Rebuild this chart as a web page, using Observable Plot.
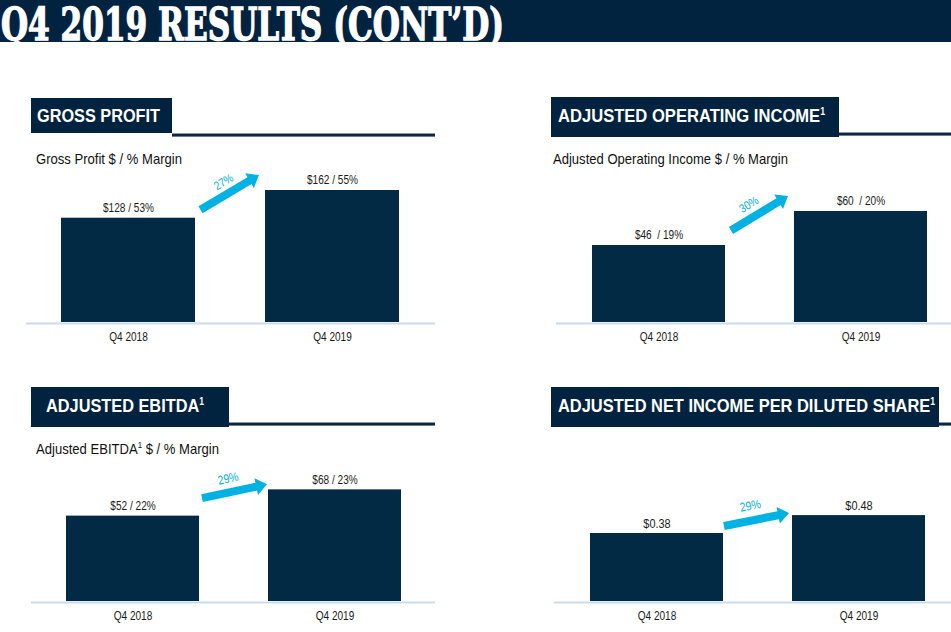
<!DOCTYPE html>
<html><head><meta charset="utf-8">
<script src="https://cdn.jsdelivr.net/npm/d3@7"></script>
<script src="https://cdn.jsdelivr.net/npm/@observablehq/plot@0.6"></script>
<style>
html,body{margin:0;padding:0;background:#fff;}
#page{position:relative;width:951px;height:632px;overflow:hidden;font-family:"Liberation Sans",Arial,sans-serif;}
.hbox{position:absolute;background:#012340;}
.htext{position:absolute;color:#fff;font-weight:bold;font-size:19px;line-height:19px;white-space:nowrap;transform-origin:0 0;}
.htext sup{font-size:10px;line-height:10px;vertical-align:top;position:relative;top:1px;}
.uline{position:absolute;height:4px;background:linear-gradient(#8d98a4 0,#8d98a4 1px,#0c2643 1px,#0c2643 3px,#6f7d8b 3px);}
.sub{position:absolute;color:#111;font-size:15px;line-height:15px;white-space:nowrap;transform-origin:0 0;}
.sub sup{font-size:9px;line-height:9px;vertical-align:top;}
.plot{position:absolute;}
</style>
</head><body><div id="page"></div>
<script>
// ---------- data ----------
const title = "Q4 2019 RESULTS (CONT\u2019D)";
const periods = ["Q4 2018", "Q4 2019"];

const grossProfit = [128, 162];
const grossMargin = [53, 55];
const grossGrowth = "27%";

const opIncome = [46, 60];
const opMargin = [19, 20];
const opGrowth = "30%";

const ebitda = [52, 68];
const ebitdaMargin = [22, 23];
const ebitdaGrowth = "29%";

const epsAdj = [0.38, 0.48];
const epsGrowth = "29%";

// ---------- style ----------
const NAVY = "#012340", BAR = "#022a45", CYAN = "#00b1e3", BASE = "#c9dbf2", INK = "#1a1a1a";
const TEXT_SX = 0.84;
const page = document.getElementById("page");

// banner
page.insertAdjacentHTML("beforeend",
  `<div style="position:absolute;left:0;top:0;width:951px;height:42px;background:${NAVY}"></div>
   <svg width="951" height="48" style="position:absolute;left:0;top:0">
     <text x="1" y="39.5" fill="#fff" stroke="#fff" stroke-width="1.4" font-family="DejaVu Serif" font-weight="bold" font-size="44"
       textLength="503" lengthAdjust="spacingAndGlyphs">${title}</text>
   </svg>`);

function fit(el, w) {
  const r = el.getBoundingClientRect().width;
  el.style.transform = `scaleX(${w / r})`;
}
function addDiv(cls, css, html) {
  const d = document.createElement("div");
  d.className = cls;
  Object.assign(d.style, css);
  if (html != null) d.innerHTML = html;
  page.appendChild(d);
  return d;
}

const headers = [
  {box:[31,98,141,35], line:[172,133,263], text:"GROSS PROFIT", tx:37, ty:106, tw:123,
   sub:"Gross Profit $ / % Margin", sx:36, sy:151, sw:146},
  {box:[551,97,288,40], line:[839,132,112], text:"ADJUSTED OPERATING INCOME<sup>1</sup>", tx:558, ty:106, tw:267,
   sub:"Adjusted Operating Income $ / % Margin", sx:553, sy:151, sw:235},
  {box:[31,387,198,40], line:[229,422,206], text:"ADJUSTED EBITDA<sup>1</sup>", tx:46, ty:396, tw:158,
   sub:"Adjusted EBITDA<sup>1</sup> $ / % Margin", sx:36, sy:441, sw:183},
  {box:[551,387,388,40], line:[939,422,12], text:"ADJUSTED NET INCOME PER DILUTED SHARE<sup>1</sup>", tx:558, ty:396, tw:377}
];
for (const h of headers) {
  addDiv("uline", {left:h.line[0]+"px", top:h.line[1]+"px", width:h.line[2]+"px"});
  addDiv("hbox", {left:h.box[0]+"px", top:h.box[1]+"px", width:h.box[2]+"px", height:h.box[3]+"px"});
  const t = addDiv("htext", {left:h.tx+"px", top:h.ty+"px"}, h.text);
  fit(t, h.tw);
  if (h.sub) {
    const s = addDiv("sub", {left:h.sx+"px", top:h.sy+"px"}, h.sub);
    fit(s, h.sw);
  }
}

// ---------- charts ----------
function chart(cfg, values, labels, growth) {
  const data = periods.map((p, i) => ({period: p, value: values[i], label: labels[i]}));
  const arrowMark = (...args) => {
    const scales = args.find(a => a && typeof a.x === "function" && typeof a.y === "function");
    const sx = scales.x, sy = scales.y;
    const bw = typeof sx.bandwidth === "function" ? sx.bandwidth() : scales.scales.x.bandwidth;
    const a = cfg.arrow;
    const x0 = sx(periods[0]) + bw + a.tail[0], y0 = sy(values[0]) + a.tail[1];
    const x1 = sx(periods[1]) + a.tip[0], y1 = sy(values[1]) + a.tip[1];
    const dx = x1 - x0, dy = y1 - y0, L = Math.hypot(dx, dy);
    const ux = dx / L, uy = dy / L, nx = -uy, ny = ux;
    const sw = 4, hw = 8.5, hl = 11;
    const bx = x1 - ux * hl, by = y1 - uy * hl;
    const pts = [[x0+nx*sw, y0+ny*sw], [bx+nx*sw, by+ny*sw], [bx+nx*hw, by+ny*hw], [x1, y1],
                 [bx-nx*hw, by-ny*hw], [bx-nx*sw, by-ny*sw], [x0-nx*sw, y0-ny*sw]];
    const g = d3.create("svg:g");
    g.append("polygon").attr("points", pts.map(p => p.join(",")).join(" ")).attr("fill", CYAN);
    const mx = (x0 + x1) / 2, my = (y0 + y1) / 2;
    const lx = mx - ux * a.lab[0] - nx * a.lab[1], ly = my - uy * a.lab[0] - ny * a.lab[1];
    const ang = Math.atan2(dy, dx) * 180 / Math.PI;
    g.append("text").attr("class", "noscale")
      .attr("transform", `translate(${lx},${ly}) rotate(${ang}) scale(${TEXT_SX},1)`)
      .attr("text-anchor", "middle").attr("dominant-baseline", "central")
      .attr("fill", CYAN).attr("font-size", cfg.arrowFont).text(growth);
    return g.node();
  };
  const svg = Plot.plot({
    width: cfg.w, height: cfg.h,
    marginTop: 0, marginLeft: cfg.ml, marginRight: cfg.mr, marginBottom: cfg.mb,
    style: {fontFamily: "'Liberation Sans', Arial, sans-serif", fontSize: "12px", color: INK, background: "transparent", overflow: "visible"},
    x: {domain: periods, paddingInner: cfg.pi, paddingOuter: cfg.po, align: cfg.align, label: null},
    y: {domain: cfg.domain, clamp: true, axis: null},
    marks: [
      Plot.barY(data, {x: "period", y: "value", fill: BAR}),
      Plot.ruleY([0], {stroke: BASE, strokeWidth: 2, dy: 1}),
      Plot.text(data, {x: "period", y: "value", text: "label", dy: -10, fontSize: cfg.labelFont, fill: INK}),
      Plot.axisX({tickSize: 0, tickPadding: 10, fontSize: 12, label: null}),
      arrowMark
    ]
  });
  svg.querySelectorAll("text").forEach(t => {
    if (t.classList.contains("noscale")) return;
    const tr = t.getAttribute("transform");
    if (tr) t.setAttribute("transform", tr + ` scale(${TEXT_SX},1)`);
    else {
      const x = +t.getAttribute("x") || 0;
      t.removeAttribute("x");
      t.setAttribute("transform", `translate(${x},0) scale(${TEXT_SX},1)`);
    }
  });
  const holder = document.createElement("div");
  holder.className = "plot";
  holder.style.left = cfg.left + "px";
  holder.style.top = cfg.top + "px";
  holder.appendChild(svg);
  page.appendChild(holder);
}

chart({left:0, top:168, w:450, h:180, ml:26, mr:15, mb:26, pi:0.341, po:0.171, align:0.5,
       domain:[0, 189], labelFont:12, arrowFont:12,
       arrow:{tail:[5.5,-8], tip:[-6,-15], lab:[0,12.5]}},
      grossProfit, grossProfit.map((v, i) => `$${v} / ${grossMargin[i]}%`), grossGrowth);

chart({left:540, top:168, w:411, h:180, ml:16, mr:0, mb:26, pi:0.34, po:0.143, align:0.6,
       domain:[14.3, 77.7], labelFont:12, arrowFont:12,
       arrow:{tail:[6,-14.5], tip:[-6,-15], lab:[4.7,13.4]}},
      opIncome, opIncome.map((v, i) => `$${v}\u00a0 / ${opMargin[i]}%`), opGrowth);

chart({left:0, top:458, w:450, h:174, ml:31, mr:15, mb:31, pi:0.342, po:0.171, align:0.5,
       domain:[0, 87.1], labelFont:12, arrowFont:12.5,
       arrow:{tail:[3,-17.5], tip:[-1,-5], lab:[3.6,14]}},
      ebitda, ebitda.map((v, i) => `$${v} / ${ebitdaMargin[i]}%`), ebitdaGrowth);

chart({left:540, top:458, w:411, h:174, ml:14, mr:0, mb:31, pi:0.34, po:0.148, align:0.583,
       domain:[0, 0.799], labelFont:13, arrowFont:12.5,
       arrow:{tail:[1,-7], tip:[-3,-2], lab:[3.5,15]}},
      epsAdj, epsAdj.map(v => `$${v.toFixed(2)}`), epsGrowth);
</script>
</body></html>
